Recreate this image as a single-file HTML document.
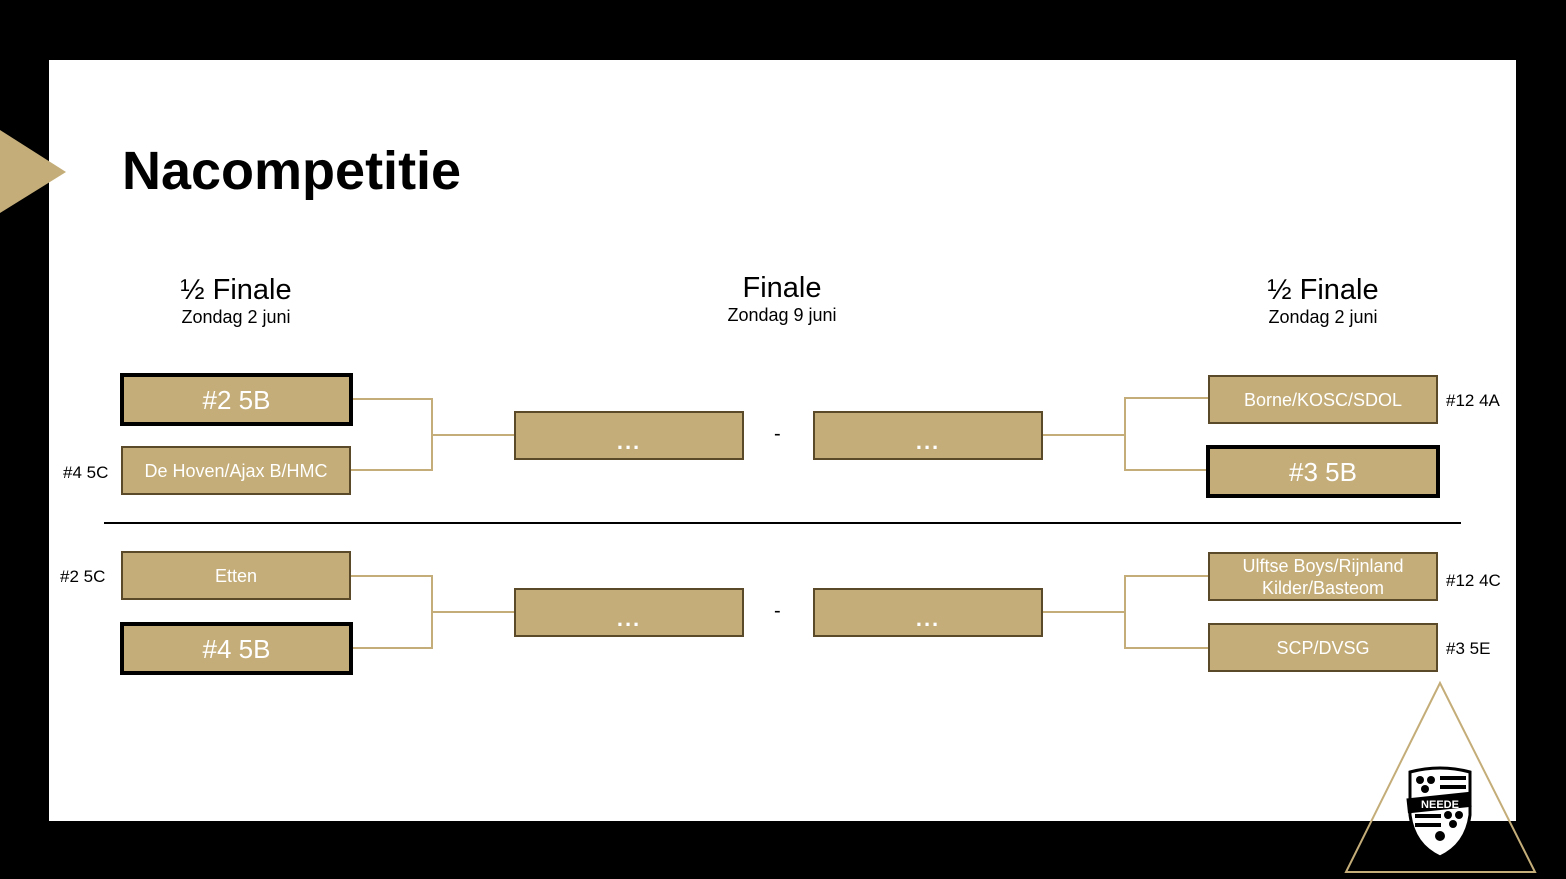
<!DOCTYPE html>
<html><head><style>
body{margin:0;width:1566px;height:879px;background:#000;position:relative;overflow:hidden;font-family:"Liberation Sans",sans-serif}
.panel{position:absolute;left:49px;top:60px;width:1467px;height:761px;background:#fff}
.b{position:absolute;box-sizing:border-box;background:#c4ad78;border:2px solid #5a4a2a;color:#fff;display:flex;align-items:center;justify-content:center;text-align:center;font-size:18px;line-height:22px}
.t{border:4px solid #000;font-size:26px}
.d{font-size:22px;font-weight:bold;padding-top:12px;letter-spacing:2px}
.l{position:absolute;font-size:17px;color:#000}
.h{position:absolute;text-align:center;color:#000;width:300px}
.h .a{font-size:29px}.h .s{font-size:18px}
</style></head><body>
<div class="panel"></div>
<svg style="position:absolute;left:0;top:0" width="1566" height="879">
<polygon points="0,130 66,172 0,213" fill="#c4ad78"/>
<g stroke="#c4ad78" stroke-width="2" fill="none">
<polyline points="352,399 432,399 432,470 350,470"/><line x1="432" y1="435" x2="514" y2="435"/>
<polyline points="350,576 432,576 432,648 350,648"/><line x1="432" y1="612" x2="514" y2="612"/>
<polyline points="1208,398 1125,398 1125,470 1208,470"/><line x1="1042" y1="435" x2="1125" y2="435"/>
<polyline points="1208,576 1125,576 1125,648 1208,648"/><line x1="1042" y1="612" x2="1125" y2="612"/>
</g>
<line x1="104" y1="523" x2="1461" y2="523" stroke="#000" stroke-width="2"/>
<polygon points="1440,683 1346,872 1535,872" fill="none" stroke="#c4ad78" stroke-width="2"/>
<path d="M1410,772 Q1440,764 1470,772 L1470,815 Q1466,845 1440,857 Q1414,845 1410,815 Z" fill="#fff" stroke="#000" stroke-width="3"/>
<circle cx="1420" cy="780" r="4"/><circle cx="1431" cy="780" r="4"/><circle cx="1425" cy="789" r="4"/>
<rect x="1440" y="776" width="26" height="4"/><rect x="1440" y="785" width="26" height="4"/>
<rect x="1407" y="795" width="64" height="15" transform="rotate(-6 1440 802)"/>
<text x="1440" y="808" fill="#fff" font-size="11" font-weight="bold" text-anchor="middle" font-family="Liberation Sans">NEEDE</text>
<circle cx="1448" cy="815" r="4"/><circle cx="1459" cy="815" r="4"/><circle cx="1453" cy="824" r="4"/>
<rect x="1415" y="814" width="26" height="4"/><rect x="1415" y="823" width="26" height="4"/>
<circle cx="1440" cy="836" r="5"/>
</svg>
<div style="position:absolute;left:122px;top:140px;font-size:54px;font-weight:bold;color:#000;letter-spacing:0px">Nacompetitie</div>
<div class="h" style="left:86px;top:274px"><div class="a">½ Finale</div><div class="s">Zondag 2 juni</div></div>
<div class="h" style="left:632px;top:272px"><div class="a">Finale</div><div class="s">Zondag 9 juni</div></div>
<div class="h" style="left:1173px;top:274px"><div class="a">½ Finale</div><div class="s">Zondag 2 juni</div></div>
<div class="b t" style="left:120px;top:373px;width:233px;height:53px">#2 5B</div>
<div class="b" style="left:121px;top:446px;width:230px;height:49px">De Hoven/Ajax B/HMC</div>
<div class="b" style="left:121px;top:551px;width:230px;height:49px">Etten</div>
<div class="b t" style="left:120px;top:622px;width:233px;height:53px">#4 5B</div>
<div class="b d" style="left:514px;top:411px;width:230px;height:49px">...</div>
<div class="b d" style="left:813px;top:411px;width:230px;height:49px">...</div>
<div class="b d" style="left:514px;top:588px;width:230px;height:49px">...</div>
<div class="b d" style="left:813px;top:588px;width:230px;height:49px">...</div>
<div class="b" style="left:1208px;top:375px;width:230px;height:49px">Borne/KOSC/SDOL</div>
<div class="b t" style="left:1206px;top:445px;width:234px;height:53px">#3 5B</div>
<div class="b" style="left:1208px;top:552px;width:230px;height:49px">Ulftse Boys/Rijnland<br>Kilder/Basteom</div>
<div class="b" style="left:1208px;top:623px;width:230px;height:49px">SCP/DVSG</div>
<div class="l" style="left:774px;top:423px;font-size:20px">-</div>
<div class="l" style="left:774px;top:600px;font-size:20px">-</div>
<div class="l" style="left:63px;top:463px">#4 5C</div>
<div class="l" style="left:60px;top:567px">#2 5C</div>
<div class="l" style="left:1446px;top:391px">#12 4A</div>
<div class="l" style="left:1446px;top:571px">#12 4C</div>
<div class="l" style="left:1446px;top:639px">#3 5E</div>
</body></html>
